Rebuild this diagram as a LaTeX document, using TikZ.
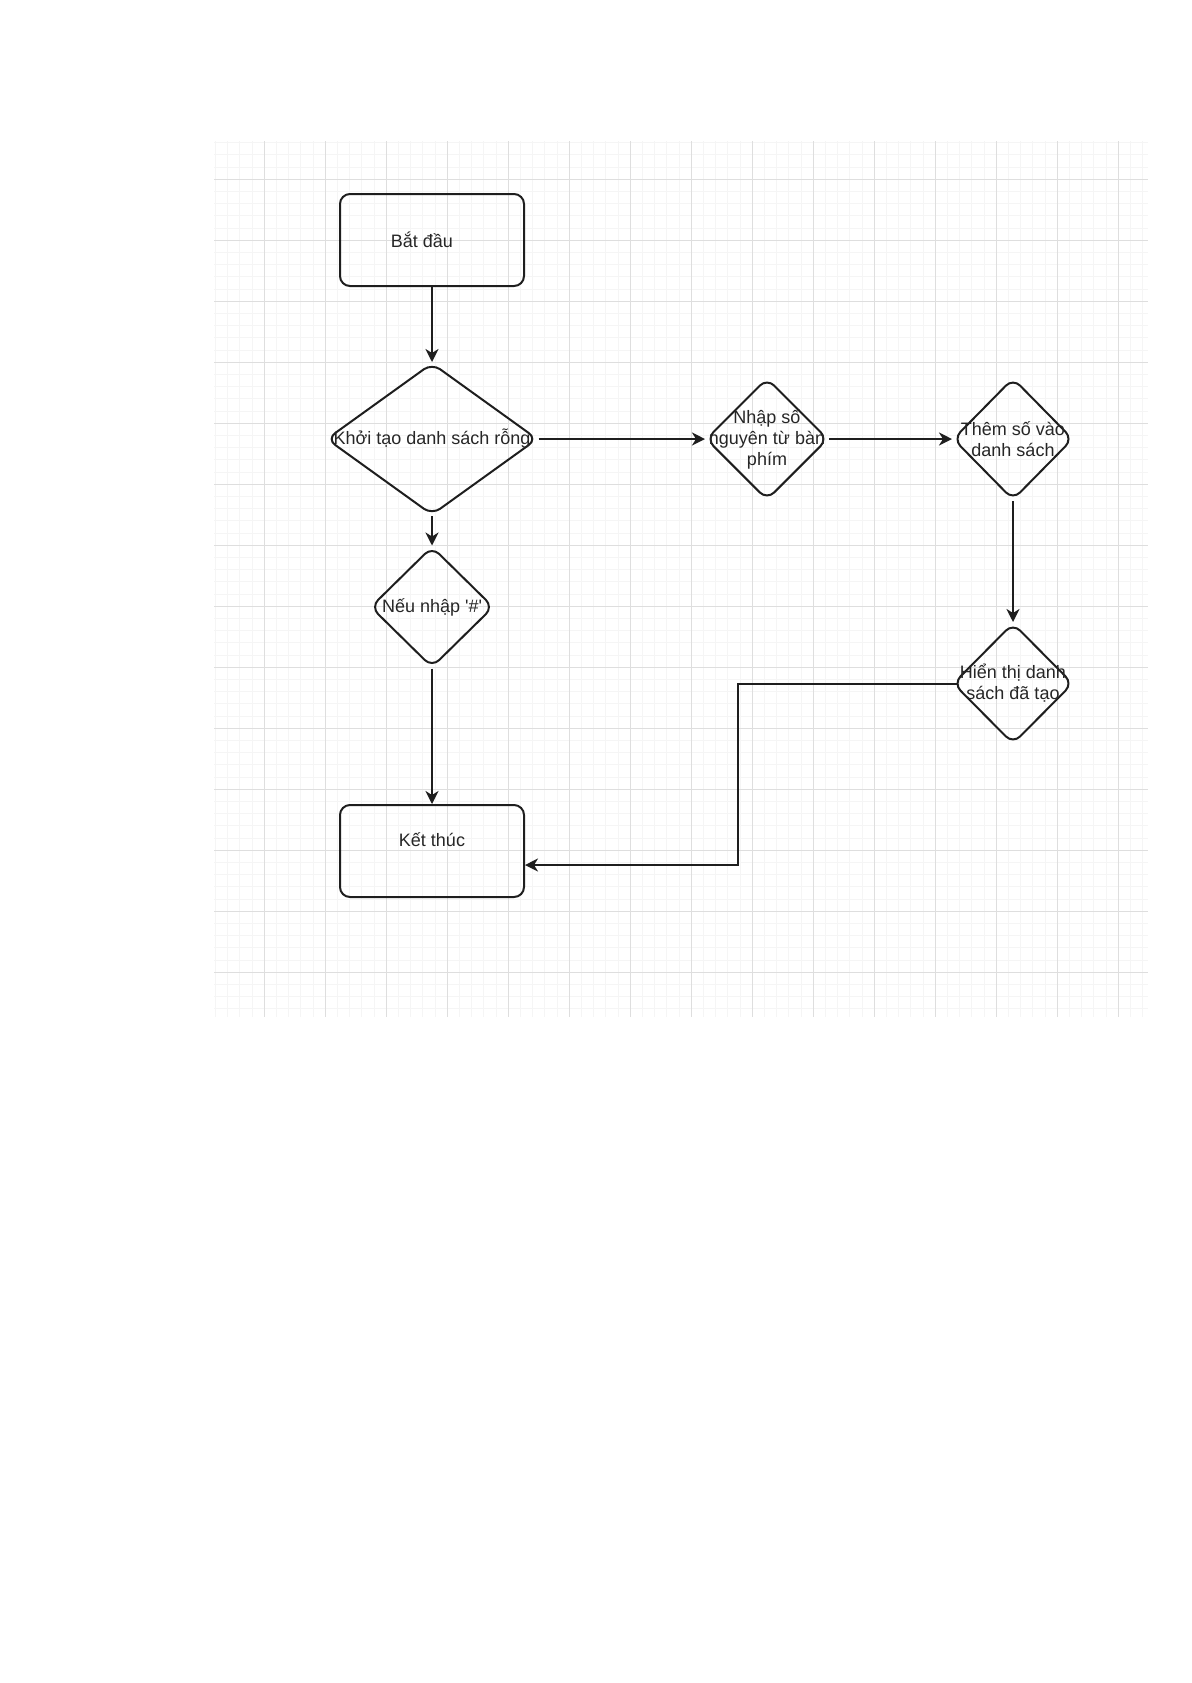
\documentclass[tikz,border=0pt]{standalone}
\usepackage{fontspec}
\setmainfont{Liberation Sans}
\usetikzlibrary{shapes.geometric,arrows.meta}

\definecolor{linecol}{HTML}{1E1E1E}
\definecolor{txtcol}{HTML}{262626}
\definecolor{minorcol}{HTML}{F5F5F5}
\definecolor{majorcol}{HTML}{DEDEDE}

\tikzset{
  gridminor/.style={draw=minorcol, line width=0.5pt},
  gridmajor/.style={draw=majorcol, line width=0.6pt},
  startstop/.style={draw=linecol, line width=1pt, rounded corners=5pt,
    minimum width=92pt, minimum height=46pt, inner sep=0pt},
  decision/.style={diamond, draw=linecol, line width=1pt, rounded corners=5pt,
    inner sep=0pt},
  txt/.style={font=\fontsize{9}{10.5}\selectfont, text=txtcol, align=center,
    inner sep=0pt},
  arrow/.style={draw=linecol, line width=1pt,
    -{Stealth[length=6.5pt,width=6.5pt,inset=2pt]}},
}

\begin{document}
\begin{tikzpicture}[x=0.5pt, y=-0.5pt]
  \useasboundingbox (0,0) rectangle (1192,1683);

  % background grid
  \foreach \i in {0,...,76}
    \draw[gridminor] ({215.5+12.2*\i},141) -- ++(0,876);
  \foreach \j in {0,...,71}
    \draw[gridminor] (214,{142.7+12.2*\j}) -- ++(934,0);
  \foreach \i in {0,...,14}
    \draw[gridmajor] ({264.3+61*\i},141) -- ++(0,876);
  \foreach \j in {0,...,13}
    \draw[gridmajor] (214,{179.3+61*\j}) -- ++(934,0);

  % boxes
  \node[startstop, label={[txt, xshift=-5pt]center:Bắt đầu}] (start) at (432,240) {};
  \node[startstop, label={[txt, yshift=5.5pt]center:Kết thúc}] (finish) at (432,851) {};

  % decisions
  \node[decision, minimum width=105.5pt, minimum height=76pt,
    label={[txt]center:Khởi tạo danh sách rỗng}] (init) at (432,439) {};
  \node[decision, minimum width=61pt, minimum height=61pt,
    label={[txt]center:{Nhập số\\nguyên từ bàn\\phím}}] (input) at (767,439) {};
  \node[decision, minimum width=60pt, minimum height=61pt,
    label={[txt]center:{Thêm số vào\\danh sách}}] (add) at (1013,439) {};
  \node[decision, minimum width=60pt, minimum height=60.5pt,
    label={[txt]center:{Hiển thị danh\\sách đã tạo}}] (show) at (1013,683.5) {};
  \node[decision, minimum width=61.5pt, minimum height=60.5pt,
    label={[txt]center:{Nếu nhập \textquotesingle\#\textquotesingle}}] (check) at (432,607) {};

  % connectors
  \coordinate (elbow) at (738,865);
  \draw[arrow] (start) -- (init);
  \draw[arrow] (init) -- (input);
  \draw[arrow] (input) -- (add);
  \draw[arrow] (add) -- (show);
  \draw[arrow] (init) -- (check);
  \draw[arrow] (check) -- (finish);
  \draw[arrow, shorten <=-3pt] (show.west) -| (elbow) -- (elbow -| finish.east);
\end{tikzpicture}
\end{document}
